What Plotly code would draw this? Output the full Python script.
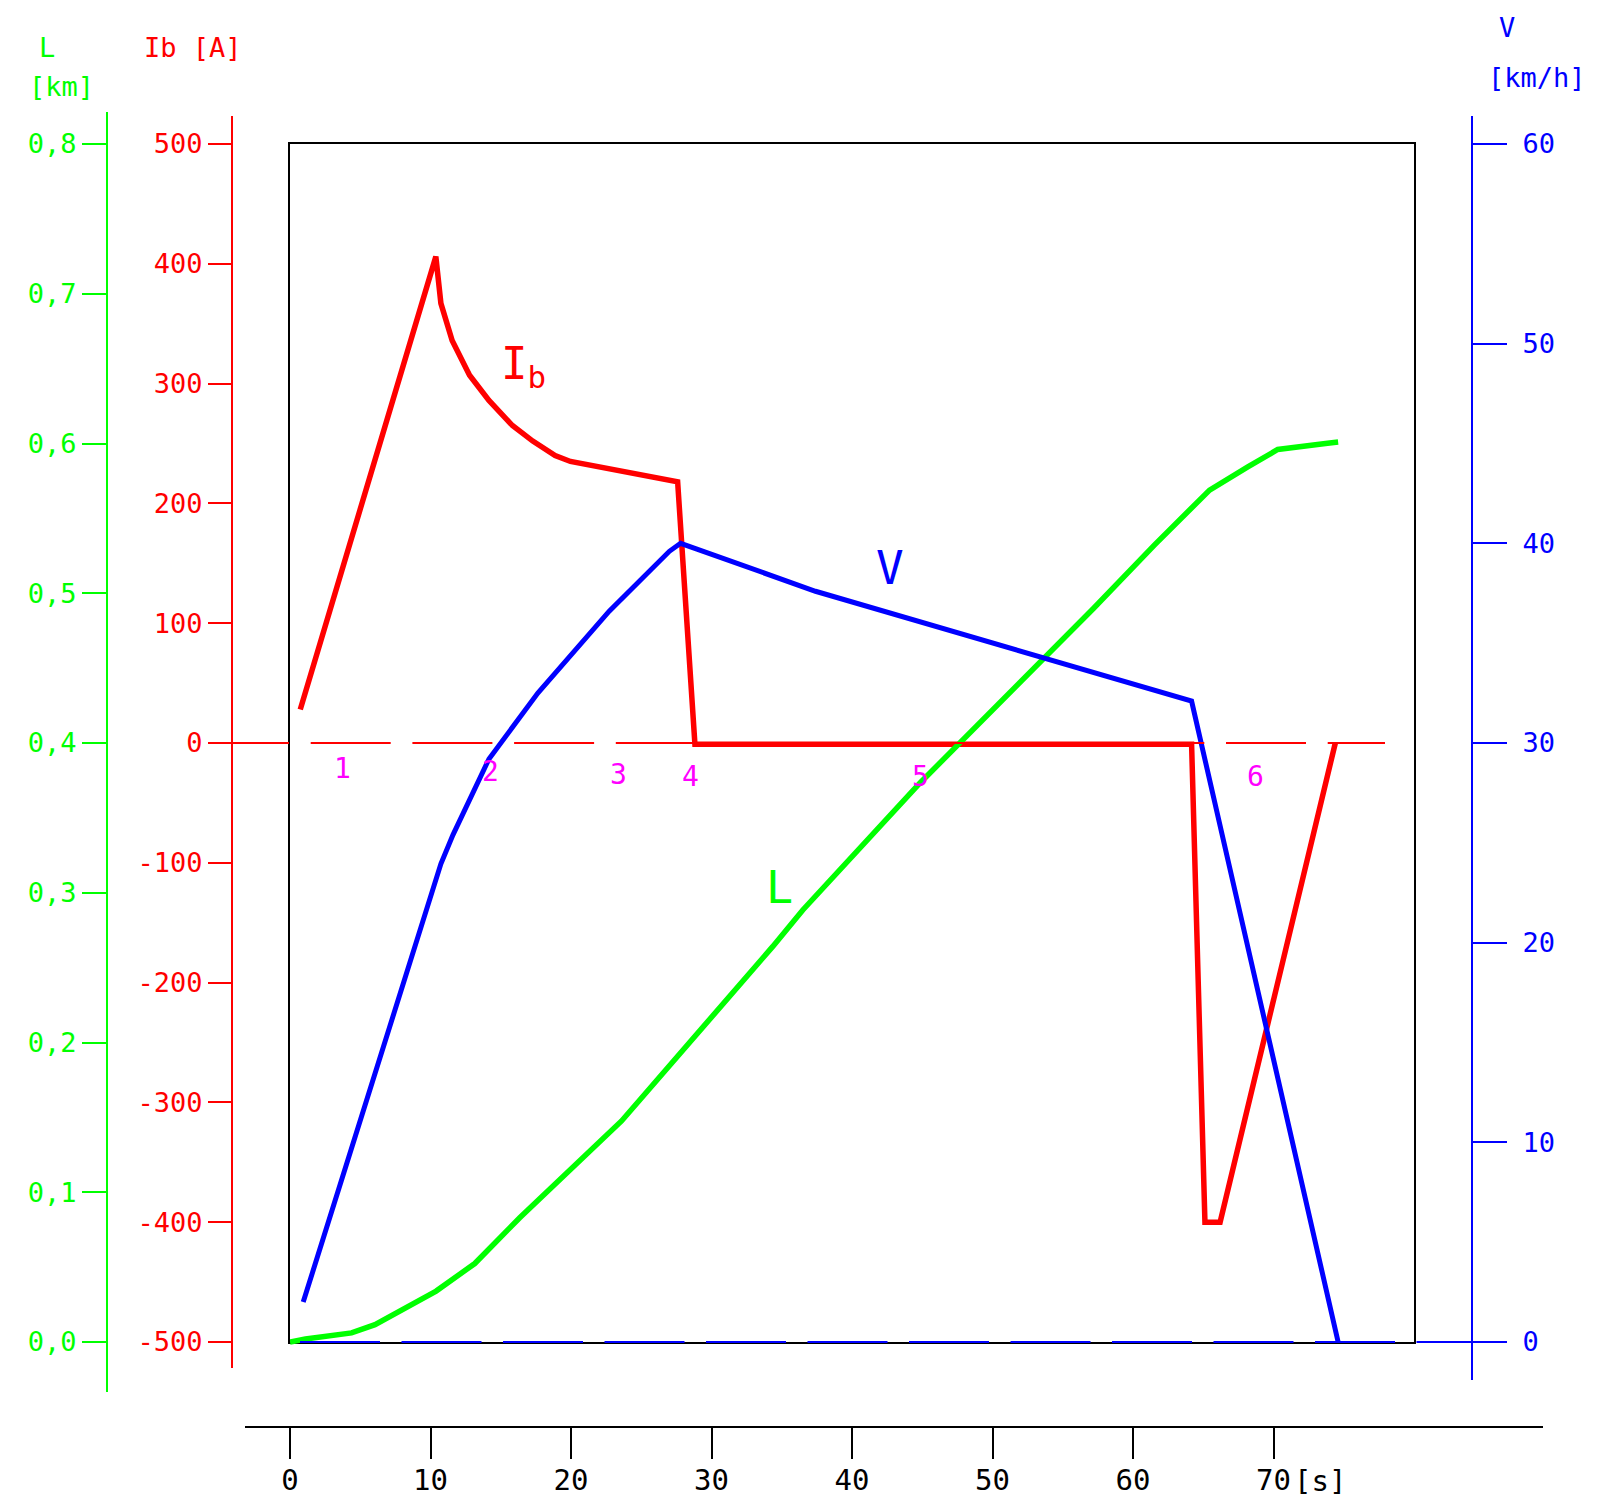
import plotly.graph_objects as go

# ---------------- data ----------------
time_ib = [0.73, 10.38, 10.74, 11.54, 12.78, 14.16, 15.83, 17.28, 18.87, 19.96, 27.59, 28.82, 64.17, 65.12, 66.2, 74.4]
current_ib = [28, 406, 367, 336, 307, 286, 265, 252, 240, 235, 218, -1, -1, -400, -400, 0]

time_v = [0.94, 10.74, 11.6, 14.16, 17.64, 22.72, 27.0, 27.8, 37.4, 64.17, 74.6]
speed_v = [2.0, 23.95, 25.4, 29.2, 32.5, 36.6, 39.6, 40.0, 37.6, 32.1, 0.0]

time_l = [0, 1.1, 4.38, 6.05, 10.4, 13.15, 16.35, 23.6, 34.35, 36.5, 44.84, 57.2, 61.5, 65.45, 68.2, 70.3, 73.7, 74.6]
dist_l = [0, 0.002, 0.0061, 0.0116, 0.034, 0.0524, 0.083, 0.1476, 0.264, 0.2885, 0.3733, 0.490, 0.532, 0.5689, 0.5845, 0.596, 0.600, 0.601]

l_tickvals = [0, 0.1, 0.2, 0.3, 0.4, 0.5, 0.6, 0.7, 0.8]
l_ticktext = ["0,0", "0,1", "0,2", "0,3", "0,4", "0,5", "0,6", "0,7", "0,8"]
ib_tickvals = [-500, -400, -300, -200, -100, 0, 100, 200, 300, 400, 500]
ib_ticktext = ["-500", "-400", "-300", "-200", "-100", "0", "100", "200", "300", "400", "500"]
v_tickvals = [0, 10, 20, 30, 40, 50, 60]
v_ticktext = ["0", "10", "20", "30", "40", "50", "60"]
t_tickvals = [0, 10, 20, 30, 40, 50, 60, 70]
t_ticktext = ["0", "10", "20", "30", "40", "50", "60", "70"]

region_labels = ["1", "2", "3", "4", "5", "6"]
region_t = [3.77, 14.3, 23.4, 28.54, 44.84, 68.7]
region_ib = [-21, -24, -26, -28, -28, -28]

# ---------------- geometry helpers (screen pixels -> paper) ----------------
OFF = 8                      # default page body margin
W, H = 1598 - OFF, 1505 - OFF
def px(x):
    return (x - OFF) / W
def py(y):
    return 1 - (y - OFF) / H

BX0, BX1, BY0, BY1 = 290, 1414, 144, 1342   # plot box (screen pixels)
T_PER_PX = 80 / (BX1 - BX0)

def yrange(top_px, bot_px, vmin, vmax):
    k = (vmax - vmin) / (BY1 - BY0)
    return [vmin - (bot_px - BY1) * k, vmax + (BY0 - top_px) * k]

GREEN = "#00FF00"
RED = "#FF0000"
BLUE = "#0000FF"
MAG = "#FF00FF"
FONT = "DejaVu Sans Mono"

fig = go.Figure()

# empty helper traces so the box subplot and the time-axis subplot exist
fig.add_trace(go.Scatter(x=[None], y=[None], xaxis="x", yaxis="y", showlegend=False, hoverinfo="skip"))
fig.add_trace(go.Scatter(x=[None], y=[None], xaxis="x2", yaxis="y", showlegend=False, hoverinfo="skip"))

fig.add_trace(go.Scatter(x=time_ib, y=current_ib, xaxis="x", yaxis="y2", mode="lines",
                         line=dict(color=RED, width=5.5), showlegend=False))
fig.add_trace(go.Scatter(x=time_l, y=dist_l, xaxis="x", yaxis="y3", mode="lines",
                         line=dict(color=GREEN, width=5.5), showlegend=False))
fig.add_trace(go.Scatter(x=time_v, y=speed_v, xaxis="x", yaxis="y4", mode="lines",
                         line=dict(color=BLUE, width=5), showlegend=False))

tick_common = dict(showgrid=False, zeroline=False, ticks="outside", tickwidth=2, linewidth=2, showline=True)

fig.update_layout(
    width=W, height=H,
    margin=dict(l=0, r=0, t=0, b=0),
    template="none",
    paper_bgcolor="white",
    plot_bgcolor="rgba(0,0,0,0)",
    showlegend=False,
    xaxis=dict(domain=[px(BX0), px(BX1)], range=[0, 80], showline=True, mirror=True,
               linecolor="black", linewidth=2, showticklabels=False, ticks="",
               showgrid=False, zeroline=False, anchor="y", layer="below traces"),
    yaxis=dict(domain=[py(BY1), py(BY0)], range=[0, 1], showline=True, mirror=True,
               linecolor="black", linewidth=2, showticklabels=False, ticks="",
               showgrid=False, zeroline=False, anchor="x", layer="below traces"),
    xaxis2=dict(domain=[px(245), px(1543)],
                range=[(245 - BX0) * T_PER_PX, (1543 - BX0) * T_PER_PX],
                anchor="free", position=py(1427), side="bottom",
                tickvals=t_tickvals, ticktext=t_ticktext, ticklen=31,
                linecolor="black", tickcolor="black",
                tickfont=dict(family=FONT, size=29, color="black"),
                ticklabelstandoff=-4, **tick_common),
    yaxis2=dict(domain=[py(1368), py(116)], range=yrange(116, 1368, -500, 500),
                anchor="free", position=px(232), side="left",
                tickvals=ib_tickvals, ticktext=ib_ticktext, ticklen=23,
                linecolor=RED, tickcolor=RED,
                tickfont=dict(family=FONT, size=27, color=RED), **tick_common),
    yaxis3=dict(domain=[py(1392), py(112)], range=yrange(112, 1392, 0, 0.8),
                anchor="free", position=px(107), side="left",
                tickvals=l_tickvals, ticktext=l_ticktext, ticklen=24,
                linecolor=GREEN, tickcolor=GREEN,
                tickfont=dict(family=FONT, size=27, color=GREEN), **tick_common),
    yaxis4=dict(domain=[py(1380), py(116)], range=yrange(116, 1380, 0, 60),
                anchor="free", position=px(1472), side="right",
                tickvals=v_tickvals, ticktext=v_ticktext, ticklen=34,
                linecolor=BLUE, tickcolor=BLUE,
                tickfont=dict(family=FONT, size=27, color=BLUE),
                ticklabelstandoff=10, **tick_common),
)

# zero reference lines
fig.add_shape(type="line", xref="paper", yref="y2", x0=px(209), x1=px(1385), y0=0, y1=0,
              line=dict(color=RED, width=2, dash="80px,21.7px"), layer="above")
fig.add_shape(type="line", xref="paper", yref="y4", x0=px(300), x1=px(1472), y0=0, y1=0,
              line=dict(color=BLUE, width=2, dash="80px,21.5px"), layer="above")

# axis titles
def paper_text(text, x, y, color, size=27):
    fig.add_annotation(text=text, x=px(x), y=py(y), xref="paper", yref="paper",
                       showarrow=False, xanchor="center", yanchor="middle",
                       font=dict(family=FONT, size=size, color=color))

paper_text("L", 47, 48, GREEN)
paper_text("[km]", 61, 87, GREEN)
paper_text("Ib [A]", 193, 47, RED)
paper_text("V", 1507, 27, BLUE)
paper_text("[km/h]", 1537, 78, BLUE)
paper_text("[s]", 1320, 1481, "black", 29)

# curve labels
paper_text("I<sub>b</sub>", 523, 367, RED, 44)
paper_text("V", 890, 568, BLUE, 46)
paper_text("L", 779, 887, GREEN, 45)

# region numbers
for lab, tx, iy in zip(region_labels, region_t, region_ib):
    fig.add_annotation(text=lab, x=tx, y=iy, xref="x", yref="y2", showarrow=False,
                       font=dict(family=FONT, size=28, color=MAG))

fig.write_html("out.html")
